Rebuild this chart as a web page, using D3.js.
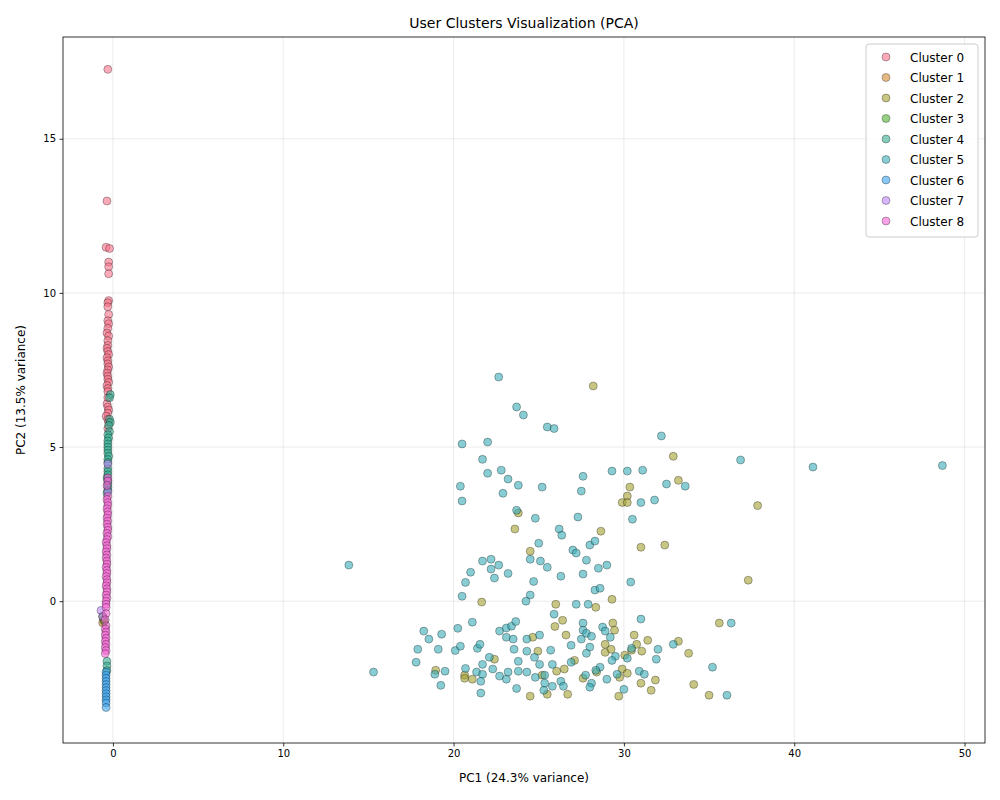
<!DOCTYPE html>
<html>
<head>
<meta charset="utf-8">
<script src="https://cdn.jsdelivr.net/npm/d3@7"></script>
<style>
  body { margin: 0; background: #fff; }
  text { font-family: "DejaVu Sans", sans-serif; }
</style>
</head>
<body>
<svg id="chart" width="1000" height="800"></svg>
<script>
// cluster data: [PC1, PC2]
var cluster0 = [[-0.3,17.25],[-0.35,12.98],[-0.4,11.48],[-0.2,11.44],[-0.25,11.0],[-0.25,10.85],[-0.25,10.62],[-0.25,9.75],[-0.3,9.68],[-0.3,9.55],[-0.25,9.3],[-0.3,9.1],[-0.25,9.0],[-0.3,8.85],[-0.35,8.7],[-0.25,8.6],[-0.3,8.45],[-0.3,8.3],[-0.35,8.2],[-0.3,8.1],[-0.25,8.0],[-0.35,7.9],[-0.3,7.8],[-0.3,7.7],[-0.25,7.6],[-0.3,7.5],[-0.35,7.4],[-0.3,7.3],[-0.3,7.2],[-0.25,7.1],[-0.35,7.0],[-0.3,6.9],[-0.3,6.8],[-0.3,6.6],[-0.35,6.4],[-0.3,6.3],[-0.25,6.2],[-0.3,6.1],[-0.4,6.0],[-0.3,5.9],[-0.25,5.8],[-0.3,5.6]];
var cluster1 = [[-0.6,-0.7],[-0.55,-0.6]];
var cluster2 = [[28.2,6.98],[30.35,3.7],[30.2,3.41],[29.9,3.2],[30.2,3.2],[31.0,1.75],[28.65,2.27],[23.8,2.86],[23.6,2.34],[24.5,1.62],[21.65,-0.03],[26.0,-0.1],[28.35,-0.2],[29.3,0.06],[26.4,-0.62],[25.95,-0.82],[29.35,-0.71],[29.45,-0.94],[30.6,-1.1],[31.4,-1.27],[30.75,-1.4],[26.6,-1.1],[24.65,-1.17],[24.95,-1.62],[28.9,-1.4],[28.9,-1.66],[29.25,-1.56],[30.05,-1.75],[30.45,-1.59],[31.05,-1.62],[27.1,-1.92],[22.4,-1.88],[18.95,-2.24],[20.65,-2.4],[20.65,-2.5],[21.1,-2.53],[25.2,-2.4],[26.05,-2.27],[26.5,-2.2],[27.6,-2.5],[28.4,-2.3],[29.9,-2.2],[30.2,-2.34],[29.75,-2.47],[31.0,-2.66],[31.6,-2.89],[29.7,-3.08],[24.5,-3.08],[25.5,-3.02],[26.7,-3.02],[31.85,-2.56],[32.9,4.7],[33.2,3.92],[37.85,3.1],[32.4,1.82],[37.3,0.68],[35.6,-0.71],[33.2,-1.3],[33.8,-1.69],[34.1,-2.7],[35.0,-3.05]];
var cluster3 = [[-0.6,-0.5],[-0.5,-0.65]];
var cluster4 = [[-0.15,6.7],[-0.2,6.6],[-0.2,5.9],[-0.15,5.8],[-0.25,5.7],[-0.2,5.5],[-0.3,5.4],[-0.25,5.3],[-0.3,5.2],[-0.3,5.1],[-0.3,5.0],[-0.3,4.9],[-0.3,4.8],[-0.25,4.7],[-0.3,4.6],[-0.3,4.5],[-0.3,4.3],[-0.3,4.2],[-0.3,4.1],[-0.35,4.0],[-0.3,3.9],[-0.3,3.8],[-0.3,3.7],[-0.3,3.6],[-0.35,3.5],[-0.35,-1.95],[-0.35,-2.1],[-0.35,-2.25]];
var cluster5 = [[22.65,7.27],[23.7,6.3],[24.1,6.04],[25.5,5.65],[25.9,5.6],[20.5,5.1],[22.0,5.16],[21.7,4.6],[22.0,4.15],[22.8,4.25],[23.2,3.96],[23.8,3.76],[25.2,3.7],[22.9,3.5],[20.4,3.73],[20.5,3.25],[27.6,4.05],[27.5,3.57],[29.3,4.22],[30.2,4.22],[31.1,4.25],[31.0,3.2],[31.8,3.28],[30.5,2.66],[23.7,2.95],[24.8,2.69],[27.3,2.73],[26.2,2.34],[26.35,2.14],[25.0,1.88],[27.0,1.66],[27.2,1.56],[27.8,1.33],[28.0,1.82],[28.3,1.95],[24.5,1.36],[25.1,1.3],[25.5,1.1],[21.7,1.3],[22.2,1.36],[22.65,1.17],[22.2,1.04],[22.4,0.75],[21.0,0.94],[20.7,0.61],[20.5,0.16],[23.2,0.9],[24.7,0.64],[24.5,0.2],[24.25,0.0],[26.3,0.81],[27.6,0.88],[28.5,1.07],[29.0,1.17],[28.3,0.36],[28.6,0.42],[30.4,0.62],[27.2,-0.1],[27.9,-0.1],[13.85,1.17],[15.3,-2.3],[18.25,-0.97],[18.55,-1.23],[19.3,-1.07],[20.25,-0.88],[21.1,-0.68],[17.9,-1.56],[19.1,-1.56],[17.8,-1.98],[19.5,-2.27],[18.9,-2.37],[19.25,-2.73],[20.1,-1.6],[20.4,-1.46],[21.4,-1.53],[21.55,-1.4],[22.1,-1.82],[21.7,-2.05],[20.7,-2.18],[21.35,-2.3],[21.7,-2.37],[21.6,-2.6],[21.6,-2.98],[22.3,-2.2],[22.7,-2.43],[23.1,-2.53],[23.2,-2.3],[22.7,-0.97],[23.1,-0.87],[23.4,-0.81],[23.65,-0.66],[23.1,-1.17],[23.5,-1.23],[23.55,-1.56],[24.3,-1.23],[25.05,-1.1],[24.3,-1.62],[24.75,-1.82],[25.05,-2.05],[23.8,-1.95],[23.8,-2.27],[24.3,-2.3],[24.8,-2.47],[25.35,-2.4],[25.35,-2.66],[25.3,-2.89],[23.7,-2.83],[25.7,-1.59],[25.9,-0.42],[25.8,-2.05],[25.8,-2.76],[26.3,-2.6],[26.45,-2.76],[26.9,-1.43],[26.9,-1.98],[27.6,-0.71],[27.6,-0.94],[27.8,-1.04],[28.1,-1.14],[27.5,-1.23],[28.0,-1.49],[27.8,-1.69],[28.75,-0.84],[28.9,-0.97],[29.2,-1.17],[29.5,-1.79],[29.3,-1.92],[30.2,-1.85],[30.45,-1.53],[31.0,-0.58],[28.6,-2.14],[28.35,-2.24],[27.75,-2.4],[28.1,-2.66],[28.0,-2.79],[29.0,-2.53],[29.6,-2.37],[30.0,-2.86],[30.9,-2.27],[31.2,-2.37],[31.9,-1.88],[32.0,-1.56],[32.2,5.36],[36.85,4.58],[41.1,4.35],[48.7,4.4],[32.5,3.8],[33.6,3.73],[32.9,-1.4],[36.3,-0.71],[35.2,-2.14],[36.05,-3.05]];
var cluster6 = [[-0.4,-2.3],[-0.4,-2.4],[-0.4,-2.5],[-0.4,-2.6],[-0.4,-2.7],[-0.4,-2.8],[-0.4,-2.9],[-0.4,-3.0],[-0.4,-3.1],[-0.4,-3.2],[-0.4,-3.3],[-0.4,-3.45]];
var cluster7 = [[-0.3,4.45],[-0.3,3.55],[-0.7,-0.3],[-0.6,-0.5]];
var cluster8 = [[-0.3,4.0],[-0.3,3.9],[-0.35,3.75],[-0.3,3.4],[-0.35,3.3],[-0.3,3.2],[-0.3,3.1],[-0.35,3.0],[-0.3,2.9],[-0.3,2.8],[-0.35,2.7],[-0.3,2.6],[-0.35,2.5],[-0.3,2.4],[-0.3,2.3],[-0.35,2.2],[-0.3,2.1],[-0.35,2.0],[-0.4,1.9],[-0.35,1.8],[-0.35,1.7],[-0.4,1.6],[-0.35,1.5],[-0.4,1.4],[-0.35,1.3],[-0.35,1.2],[-0.4,1.1],[-0.35,1.0],[-0.35,0.9],[-0.4,0.8],[-0.35,0.7],[-0.35,0.6],[-0.4,0.5],[-0.35,0.4],[-0.35,0.3],[-0.4,0.2],[-0.35,0.1],[-0.4,0.0],[-0.4,-0.1],[-0.4,-0.2],[-0.4,-0.4],[-0.45,-0.6],[-0.4,-0.8],[-0.45,-0.9],[-0.4,-1.0],[-0.45,-1.1],[-0.4,-1.2],[-0.45,-1.3],[-0.4,-1.4],[-0.45,-1.5],[-0.4,-1.6],[-0.45,-1.7]];

var clusterNames = ['Cluster 0','Cluster 1','Cluster 2','Cluster 3','Cluster 4','Cluster 5','Cluster 6','Cluster 7','Cluster 8'];
var clusterColors = ['#f77189','#d58c32','#a4a031','#50b131','#34ae91','#37abb5','#3ba3ec','#bb83f4','#f564d4'];
var clusters = [cluster0,cluster1,cluster2,cluster3,cluster4,cluster5,cluster6,cluster7,cluster8];
var xTicks = [0,10,20,30,40,50];
var yTicks = [0,5,10,15];

var svg = d3.select('#chart');
var m = { l: 63, r: 15, t: 37, b: 57 };
var w = 1000 - m.l - m.r, h = 800 - m.t - m.b;

var x = d3.scaleLinear().domain([-2.93, 51.2]).range([0, w]);
var y = d3.scaleLinear().domain([-4.6, 18.3]).range([h, 0]);

var g = svg.append('g').attr('transform', `translate(${m.l},${m.t})`);

// grid
g.selectAll('.gx').data(xTicks).enter().append('line')
    .attr('x1', d => x(d)).attr('x2', d => x(d)).attr('y1', 0).attr('y2', h)
    .attr('stroke', '#b0b0b0').attr('stroke-opacity', 0.3).attr('stroke-width', 0.8);
g.selectAll('.gy').data(yTicks).enter().append('line')
    .attr('y1', d => y(d)).attr('y2', d => y(d)).attr('x1', 0).attr('x2', w)
    .attr('stroke', '#b0b0b0').attr('stroke-opacity', 0.3).attr('stroke-width', 0.8);

// points
clusters.forEach((pts, i) => {
    g.append('g').selectAll('circle').data(pts).enter().append('circle')
        .attr('cx', d => x(d[0])).attr('cy', d => y(d[1])).attr('r', 4)
        .attr('fill', clusterColors[i]).attr('fill-opacity', 0.6)
        .attr('stroke', '#000').attr('stroke-opacity', 0.6).attr('stroke-width', 0.5);
});

// axes
var xAxis = g.append('g').attr('transform', `translate(0,${h})`)
    .call(d3.axisBottom(x).tickValues(xTicks).tickSize(3.5).tickPadding(3.5));
var yAxis = g.append('g')
    .call(d3.axisLeft(y).tickValues(yTicks).tickSize(3.5).tickPadding(3.5));
[xAxis, yAxis].forEach(a => {
    a.selectAll('text').attr('font-size', 10).attr('fill', '#000');
    a.selectAll('line,path').attr('stroke', '#000').attr('stroke-width', 0.8);
    a.select('.domain').remove();
});
g.append('rect').attr('width', w).attr('height', h)
    .attr('fill', 'none').attr('stroke', '#000').attr('stroke-width', 0.8);

svg.append('text').attr('x', m.l + w / 2).attr('y', 28).attr('text-anchor', 'middle')
    .attr('font-size', 14).text('User Clusters Visualization (PCA)');
svg.append('text').attr('x', m.l + w / 2).attr('y', 782).attr('text-anchor', 'middle')
    .attr('font-size', 12).text('PC1 (24.3% variance)');
svg.append('text').attr('transform', `translate(25,${m.t + h / 2}) rotate(-90)`)
    .attr('text-anchor', 'middle').attr('font-size', 12).text('PC2 (13.5% variance)');

// legend
var lg = svg.append('g').attr('transform', 'translate(866,44)');
lg.append('rect').attr('width', 112).attr('height', 193).attr('rx', 3)
    .attr('fill', '#fff').attr('fill-opacity', 0.8).attr('stroke', '#ccc');
clusterNames.forEach((n, i) => {
    var row = lg.append('g').attr('transform', `translate(0,${13 + i * 20.5})`);
    row.append('circle').attr('cx', 20).attr('cy', 0).attr('r', 4)
        .attr('fill', clusterColors[i]).attr('fill-opacity', 0.6)
        .attr('stroke', '#000').attr('stroke-opacity', 0.6).attr('stroke-width', 0.5);
    row.append('text').attr('x', 44).attr('y', 4.5).attr('font-size', 12).text(n);
});
</script>
</body>
</html>
